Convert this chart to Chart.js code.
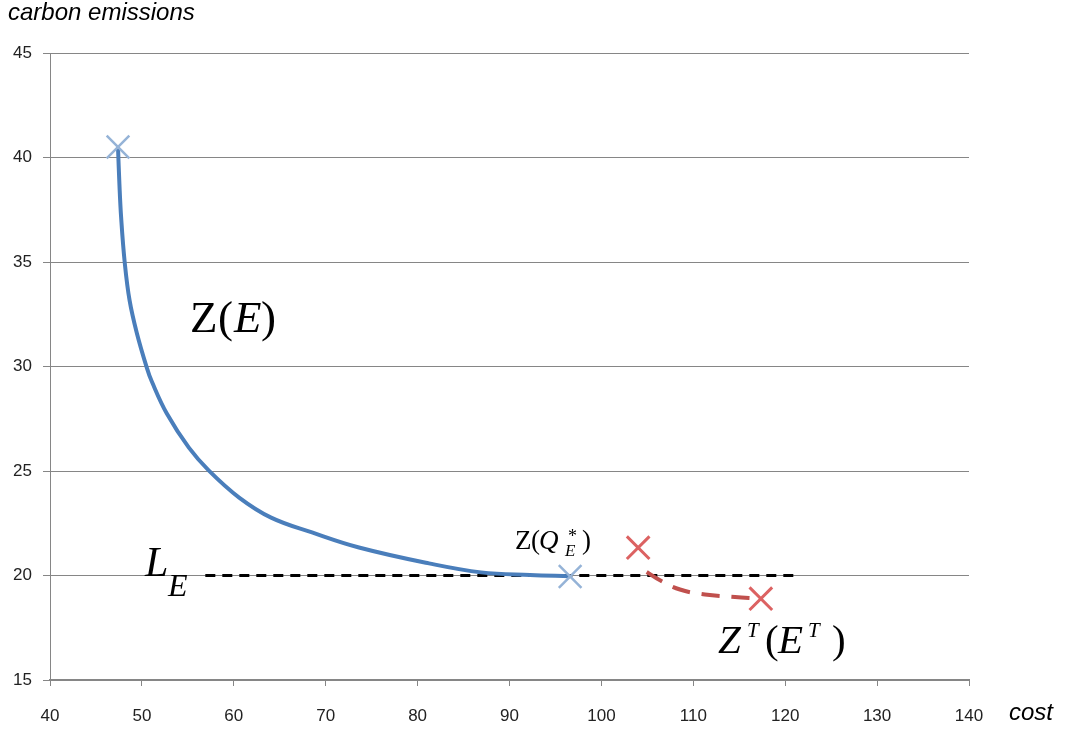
<!DOCTYPE html>
<html lang="en">
<head>
    <meta charset="UTF-8">
    <title>Carbon emissions vs cost</title>
    <script src="https://cdn.jsdelivr.net/npm/chart.js@4.4.0/dist/chart.umd.min.js"></script>
    <style>
        html, body { margin: 0; padding: 0; background: #fff; }
        #wrap { width: 1065px; height: 731px; position: relative; }
    </style>
</head>
<body>
<div id="wrap">
    <canvas id="chart_frontier" width="1065" height="731"></canvas>
</div>

<script>
    // Z(E) curve
    const curveCost = [47.4, 47.55, 47.74, 48.13, 48.66, 49.46, 50.53, 51.08, 52.71, 55.11, 57.29, 60.58, 64.06, 68.51, 73.62, 81.24, 86.9, 92.23, 96.58];
    const curveEmis = [40.49, 38.76, 37.13, 34.98, 33.16, 31.58, 29.95, 29.28, 27.75, 26.12, 25.02, 23.73, 22.77, 22.06, 21.34, 20.58, 20.15, 20.02, 19.97];

    // Z^T(E^T) dashed segment
    const tCost = [104.93, 106.38, 108.55, 111.27, 114.54, 116.93];
    const tEmis = [20.17, 19.77, 19.33, 19.09, 18.97, 18.9];

    // L_E horizontal limit
    const limitCost = [56.9, 121.1];
    const limitEmis = [20, 20];

    // X markers
    const blueMarkCost = [47.4, 96.6];
    const blueMarkEmis = [40.5, 19.95];
    const redMarkCost = [104.0, 117.35];
    const redMarkEmis = [21.33, 18.89];

    const xTicks = [40, 50, 60, 70, 80, 90, 100, 110, 120, 130, 140];
    const yTicks = [15, 20, 25, 30, 35, 40, 45];

    function pts(xs, ys) {
        return xs.map((x, i) => ({x: x, y: ys[i]}));
    }

    const gridGray = '#868686';
    const tickFont = {family: "'Liberation Sans', Arial, sans-serif", size: 17};

    // math-style annotations, anchored at data coordinates
    const annotations = {
        id: 'annotations',
        afterDatasetsDraw(chart) {
            const ctx = chart.ctx;
            const xs = chart.scales.x, ys = chart.scales.y;
            const serif = "'Liberation Serif', 'Times New Roman', serif";
            ctx.save();
            ctx.fillStyle = '#000';
            ctx.textBaseline = 'alphabetic';

            // pieces: [text, font, dx, dy] relative to anchor
            function put(anchorX, anchorY, pieces) {
                const ax = xs.getPixelForValue(anchorX), ay = ys.getPixelForValue(anchorY);
                pieces.forEach(p => {
                    ctx.font = p[1];
                    ctx.fillText(p[0], ax + p[2], ay + p[3]);
                });
            }

            // Z(E)
            put(55.23, 31.63, [
                ['Z', '45px ' + serif, 0, 0],
                ['(', '45px ' + serif, 28, 0],
                ['E', 'italic 45px ' + serif, 44, 0],
                [')', '45px ' + serif, 71, 0]
            ]);
            // L_E
            put(50.34, 20.0, [
                ['L', 'italic 42px ' + serif, 0, 0],
                ['E', 'italic 32px ' + serif, 23, 20]
            ]);
            // Z(Q*_E)
            put(90.6, 21.29, [
                ['Z', '27px ' + serif, 0, 0],
                ['(', '27px ' + serif, 16, 0],
                ['Q', 'italic 27px ' + serif, 24, 0],
                ['*', '18px ' + serif, 53, -7],
                ['E', 'italic 17px ' + serif, 50, 7],
                [')', '27px ' + serif, 67, 0]
            ]);
            // Z^T(E^T)
            put(112.69, 16.31, [
                ['Z', 'italic 41px ' + serif, 0, 0],
                ['T', 'italic 21px ' + serif, 29, -16],
                ['(', '41px ' + serif, 47, 0],
                ['E', 'italic 41px ' + serif, 60, 0],
                ['T', 'italic 21px ' + serif, 90, -16],
                [')', '41px ' + serif, 114, 0]
            ]);

            // axis titles
            ctx.font = "italic 24px 'Liberation Sans', Arial, sans-serif";
            ctx.fillText('carbon emissions', 8, 20);
            ctx.fillText('cost', 1009, 720);
            ctx.restore();
        }
    };

    new Chart(document.getElementById('chart_frontier'), {
        type: 'scatter',
        data: {
            datasets: [
                {
                    label: 'L_E',
                    data: pts(limitCost, limitEmis),
                    showLine: true,
                    borderColor: '#000',
                    borderWidth: 3,
                    borderDash: [10, 7],
                    pointRadius: 0,
                    order: 3
                },
                {
                    label: 'Z(E)',
                    data: pts(curveCost, curveEmis),
                    showLine: true,
                    borderColor: '#4a7ebb',
                    borderWidth: 4,
                    tension: 0.4,
                    pointRadius: 0,
                    order: 2
                },
                {
                    label: 'Z^T(E^T)',
                    data: pts(tCost, tEmis),
                    showLine: true,
                    borderColor: '#c0504d',
                    borderWidth: 4,
                    borderDash: [18, 12],
                    tension: 0.4,
                    pointRadius: 0,
                    order: 2
                },
                {
                    label: 'blue marks',
                    data: pts(blueMarkCost, blueMarkEmis),
                    showLine: false,
                    pointStyle: 'crossRot',
                    pointRadius: 16,
                    pointBorderWidth: 2.5,
                    borderColor: '#95b3d7',
                    order: 1
                },
                {
                    label: 'red marks',
                    data: pts(redMarkCost, redMarkEmis),
                    showLine: false,
                    pointStyle: 'crossRot',
                    pointRadius: 16,
                    pointBorderWidth: 3,
                    borderColor: '#dc6262',
                    order: 1
                }
            ]
        },
        options: {
            responsive: false,
            animation: false,
            layout: {padding: {top: 53, right: 96, left: 0, bottom: 0}},
            scales: {
                x: {
                    type: 'linear',
                    min: 40,
                    max: 140,
                    afterBuildTicks: s => { s.ticks = xTicks.map(v => ({value: v})); },
                    afterFit: s => { s.height = 51; },
                    grid: {
                        display: true,
                        drawOnChartArea: false,
                        drawTicks: true,
                        tickLength: 6,
                        color: gridGray,
                        lineWidth: 1
                    },
                    border: {color: gridGray, width: 2},
                    ticks: {color: '#222', font: tickFont, padding: 20, maxRotation: 0}
                },
                y: {
                    type: 'linear',
                    min: 15,
                    max: 45,
                    afterBuildTicks: s => { s.ticks = yTicks.map(v => ({value: v})); },
                    afterFit: s => { s.width = 50; },
                    grid: {
                        color: gridGray,
                        lineWidth: 1,
                        drawTicks: true,
                        tickLength: 7
                    },
                    border: {color: gridGray, width: 1},
                    ticks: {color: '#222', font: tickFont, padding: 11}
                }
            },
            plugins: {
                legend: {display: false},
                tooltip: {enabled: false}
            }
        },
        plugins: [annotations]
    });
</script>
</body>
</html>
